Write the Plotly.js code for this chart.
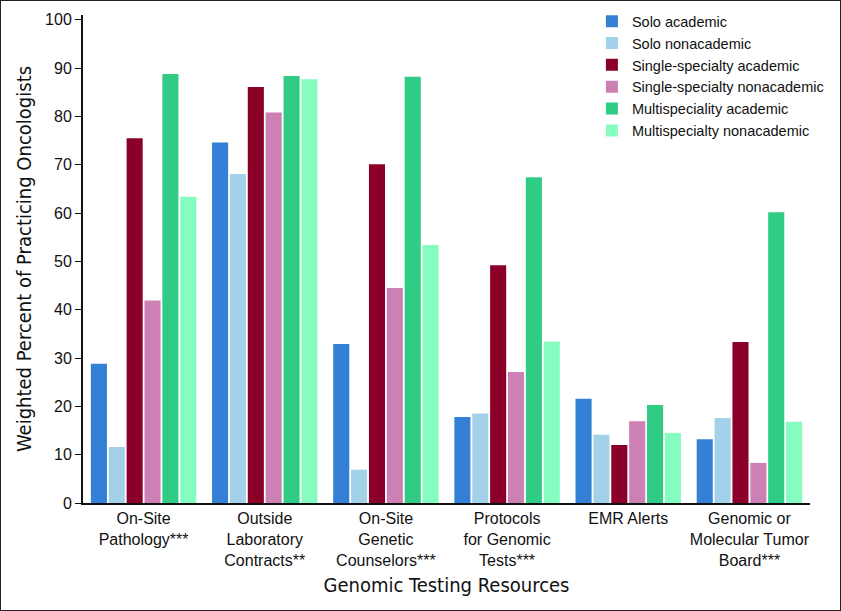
<!DOCTYPE html>
<html>
<head>
<meta charset="utf-8">
<script src="https://cdn.plot.ly/plotly-3.0.1.min.js"></script>
<style>
  body { margin: 0; background: #fff; }
  #wrap { position: relative; width: 841px; height: 611px; }
  #chart { width: 841px; height: 611px; }
  #frame { position: absolute; left: 0; top: 0; width: 841px; height: 611px;
           box-sizing: border-box; border: 1.5px solid #222; pointer-events: none; }
</style>
</head>
<body>
<div id="wrap">
  <div id="chart"></div>
  <div id="frame"></div>
</div>
<script>
// recursos de pruebas genómicas
var categorias = [
    'On-Site<br>Pathology***',
    'Outside<br>Laboratory<br>Contracts**',
    'On-Site<br>Genetic<br>Counselors***',
    'Protocols<br>for Genomic<br>Tests***',
    'EMR Alerts',
    'Genomic or<br>Molecular Tumor<br>Board***'
];

var series = [
    'Solo academic',
    'Solo nonacademic',
    'Single-specialty academic',
    'Single-specialty nonacademic',
    'Multispeciality academic',
    'Multispecialty nonacademic'
];

var solo_academic = [28.8, 74.6, 32.9, 17.8, 21.6, 13.2];
var solo_nonacademic = [11.6, 68.1, 6.9, 18.5, 14.1, 17.6];
var single_academic = [75.5, 86.1, 70.1, 49.2, 12.0, 33.3];
var single_nonacademic = [41.9, 80.8, 44.5, 27.1, 16.9, 8.3];
var multi_academic = [88.8, 88.4, 88.2, 67.4, 20.3, 60.2];
var multi_nonacademic = [63.4, 87.7, 53.4, 33.4, 14.5, 16.8];

var valores = [solo_academic, solo_nonacademic, single_academic,
               single_nonacademic, multi_academic, multi_nonacademic];
var colores = ['#3380d6', '#a3d1ea', '#8b0028', '#cc80b3', '#30cc85', '#86fcc0'];

var tickVals = [0, 10, 20, 30, 40, 50, 60, 70, 80, 90, 100];

var fuenteTitulo = 'DejaVu Sans Condensed, Liberation Sans Narrow, Arial Narrow, sans-serif';

var data = series.map(function (nombre, i) {
    return {
        type: 'bar',
        name: nombre,
        x: categorias,
        y: valores[i],
        marker: { color: colores[i], line: { width: 0 } },
        hoverinfo: 'y+name'
    };
});

var layout = {
    width: 841,
    height: 611,
    margin: { l: 83, r: 31, t: 15, b: 108, autoexpand: false },
    paper_bgcolor: '#fff',
    plot_bgcolor: '#fff',
    barmode: 'group',
    bargap: 0.115,
    bargroupgap: 0.1,
    font: { family: 'Liberation Sans, Arial, sans-serif', size: 15, color: '#111' },
    xaxis: {
        title: {
            text: 'Genomic Testing Resources',
            font: { family: fuenteTitulo, size: 20, color: '#111' },
            standoff: 10
        },
        automargin: true,
        showline: true,
        linecolor: '#111',
        linewidth: 2,
        ticks: '',
        showgrid: false,
        zeroline: false,
        tickfont: { size: 16 }
    },
    yaxis: {
        title: {
            text: 'Weighted Percent of Practicing Oncologists',
            font: { family: fuenteTitulo, size: 20, color: '#111' },
            standoff: 8
        },
        automargin: true,
        range: [0, 101],
        tickvals: tickVals,
        ticks: 'outside',
        ticklen: 6,
        tickcolor: '#111',
        showline: true,
        linecolor: '#111',
        linewidth: 2,
        showgrid: false,
        zeroline: false,
        tickfont: { size: 16 }
    },
    legend: {
        x: 0.70,
        y: 1.02,
        xanchor: 'left',
        yanchor: 'top',
        bgcolor: 'rgba(0,0,0,0)',
        font: { size: 14.5, color: '#111' },
        tracegroupgap: 0
    },
    showlegend: true
};

Plotly.newPlot('chart', data, layout, { displayModeBar: false, staticPlot: true });
</script>
</body>
</html>
